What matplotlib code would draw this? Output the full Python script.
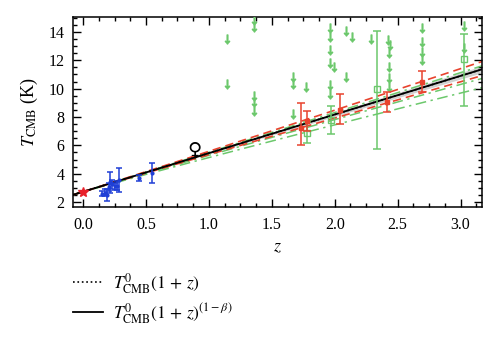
import numpy as np
import matplotlib
matplotlib.use("Agg")
import matplotlib.pyplot as plt
from matplotlib.ticker import MultipleLocator, FormatStrFormatter

plt.rcParams['font.family'] = ['Liberation Serif', 'DejaVu Serif']
plt.rcParams['mathtext.fontset'] = 'stix'

T0 = 2.725

# SZ clusters (blue)
z_sz = [0.15, 0.175, 0.19, 0.205, 0.215, 0.23, 0.25, 0.27, 0.285, 0.445, 0.545]
T_sz = [2.6, 2.65, 2.5, 3.05, 3.4, 3.25, 3.1, 3.15, 3.55, 3.7, 4.05]
e_sz = [0.2, 0.25, 0.4, 0.3, 0.75, 0.3, 0.25, 0.3, 0.85, 0.2, 0.7]

# CO measurements (red)
z_co = [1.7293, 1.7765, 2.0377, 2.4184, 2.6896]
T_co = [7.2, 7.7, 8.5, 9.05, 10.45]
lo_co = [1.2, 0.7, 1.0, 0.72, 0.7]
hi_co = [1.8, 0.7, 1.1, 0.72, 0.8]

# fine structure (green squares)
z_fs = [1.78, 1.973, 2.337, 3.025]
T_fs = [6.9, 7.8, 10.0, 12.1]
lo_fs = [0.75, 1.0, 4.25, 3.3]
hi_fs = [0.75, 1.0, 4.1, 1.75]

# upper limits (green arrows)
z_ul = [1.14, 1.14, 1.36, 1.36, 1.36, 1.36, 1.36, 1.67, 1.67, 1.67, 1.77,
        1.96, 1.96, 1.96, 1.96, 1.96, 1.96, 1.99, 2.09, 2.09, 2.14, 2.29,
        2.42, 2.44, 2.43, 2.43, 2.43, 2.43, 2.69, 2.69, 2.69, 2.69, 3.03, 3.03]
T_ul = [13.5, 10.33, 14.85, 14.35, 9.45, 9.05, 8.45, 10.85, 10.3, 8.2, 10.1,
        14.27, 13.62, 12.73, 11.8, 10.26, 9.65, 11.55, 14.1, 10.85, 13.63, 13.5,
        13.4, 13.05, 12.5, 11.55, 10.75, 10.15, 14.28, 13.3, 12.6, 12.0, 14.45, 12.87]

# fitted beta values
beta_fit = 0.0
beta_band = [-0.015, 0.015]
beta_red = [-0.033, 0.028]
beta_green = [-0.015, 0.041, 0.085]

fig = plt.figure(figsize=(5, 3.41), dpi=100)
ax = fig.add_axes([0.146, 0.393, 0.818, 0.557])

zz = np.linspace(-0.08, 3.17, 300)
def temp(b):
    return T0 * (1 + zz) ** (1 - b)

ax.fill_between(zz, temp(beta_band[1]), temp(beta_band[0]), color='#d0d0d0', lw=0, zorder=1)
for b in beta_green:
    ax.plot(zz, temp(b), color='#6cc86c', ls=(0, (7, 3, 1.5, 3)), lw=1.1, zorder=2)
for b in beta_red:
    ax.plot(zz, temp(b), color='#e8432e', ls=(0, (5, 3)), lw=1.2, zorder=2)
l_dot, = ax.plot(zz, T0 * (1 + zz), color='k', ls=':', lw=1.2, zorder=3)
l_fit, = ax.plot(zz, temp(beta_fit), color='k', ls='-', lw=1.3, zorder=3)

ax.errorbar(z_sz, T_sz, yerr=e_sz, fmt='.', color='#1f3fd6', ms=4, lw=1.1,
            capsize=2, capthick=1.1, zorder=5)
ax.plot([0.0], [T0], marker='*', color='#e8202a', ms=7, ls='none', zorder=6)
ax.errorbar(z_co, T_co, yerr=[lo_co, hi_co], fmt='s', color='#e8432e', ms=3,
            lw=1.1, capsize=3, capthick=1.1, zorder=5)
ax.errorbar(z_fs, T_fs, yerr=[lo_fs, hi_fs], fmt='s', color='#6cc86c', mfc='none',
            ms=4.5, lw=1.1, capsize=3, capthick=1.1, zorder=4)
ax.plot(z_ul, T_ul, ls='none', marker=r'$\downarrow$', color='#6cc86c', ms=6.5, zorder=4)
ax.text(0.885, 5.65, '\u2640', fontsize=14, ha='center', va='center',
        family='DejaVu Sans', zorder=6)

ax.set_xlim(-0.08, 3.17)
ax.set_ylim(1.65, 15.05)
ax.xaxis.set_major_locator(MultipleLocator(0.5))
ax.xaxis.set_minor_locator(MultipleLocator(0.125))
ax.xaxis.set_major_formatter(FormatStrFormatter('%.1f'))
ax.yaxis.set_major_locator(MultipleLocator(2))
ax.yaxis.set_minor_locator(MultipleLocator(0.5))
ax.tick_params(which='both', direction='in', top=True, right=True, labelsize=11.5, width=1)
ax.tick_params(which='major', length=5.5, pad=6)
ax.tick_params(axis='x', which='major', pad=7)
ax.tick_params(which='minor', length=3)
for s in ax.spines.values():
    s.set_linewidth(1.1)

ax.set_xlabel(r'$z$', fontsize=13, labelpad=4)
ax.set_ylabel(r'$T_{\rm CMB}$ (K)', fontsize=13, labelpad=6)

fig.legend([l_dot, l_fit],
           [r'$T^0_{\rm CMB}(1\,+\,z)$', r'$T^0_{\rm CMB}(1\,+\,z)^{(1-\beta)}$'],
           loc='upper left', bbox_to_anchor=(0.146, 0.205), frameon=False,
           fontsize=12.5, handlelength=1.7, handletextpad=0.6, labelspacing=0.3,
           borderpad=0, borderaxespad=0)

fig.savefig('out.png', dpi=100)
